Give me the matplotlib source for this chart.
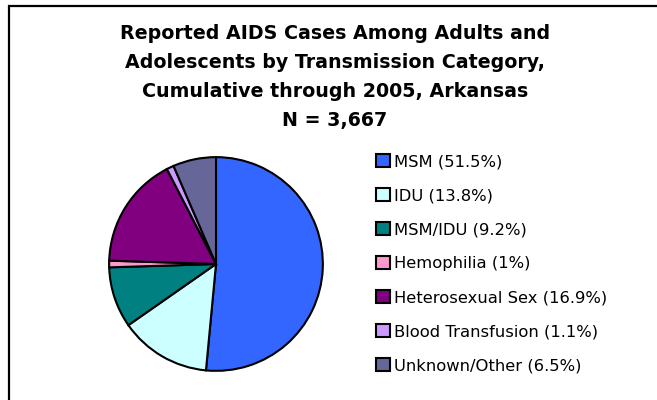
import matplotlib
matplotlib.use("Agg")
import matplotlib.pyplot as plt
from matplotlib.patches import Rectangle

plt.rcParams["font.family"] = "DejaVu Sans"

# data
categories = ["MSM", "IDU", "MSM/IDU", "Hemophilia", "Heterosexual Sex",
              "Blood Transfusion", "Unknown/Other"]
percents = [51.5, 13.8, 9.2, 1, 16.9, 1.1, 6.5]
pct_labels = ["51.5%", "13.8%", "9.2%", "1%", "16.9%", "1.1%", "6.5%"]
colors = ["#3366FF", "#CCFFFF", "#008080", "#FF99CC", "#800080",
          "#CC99FF", "#666699"]

title = ("Reported AIDS Cases Among Adults and\n"
         "Adolescents by Transmission Category,\n"
         "Cumulative through 2005, Arkansas\n"
         "N = 3,667")

W, H = 657, 400
fig = plt.figure(figsize=(W / 100, H / 100), dpi=100)
fig.patch.set_facecolor("white")

# outer border (cropped on the right and bottom)
fig.add_artist(Rectangle((9 / W, -0.1), 1.1, 1 - 6 / H + 0.1,
                         transform=fig.transFigure, fill=False,
                         edgecolor="black", linewidth=1.6))

fig.text(335 / W, 1 - 24 / H, title, ha="center", va="top",
         fontsize=13.7, fontweight="bold", linespacing=1.67)

# pie
cx, cy, r = 216, 264, 109
ax = fig.add_axes([(cx - r) / W, (H - cy - r) / H, 2 * r / W, 2 * r / H])
wedges, _ = ax.pie(percents, colors=colors, startangle=90, counterclock=False,
                   radius=1,
                   wedgeprops=dict(edgecolor="black", linewidth=1.5))
ax.set_xlim(-1.02, 1.02)
ax.set_ylim(-1.02, 1.02)
ax.set_aspect("equal")
ax.axis("off")

labels = [f"{c} ({p})" for c, p in zip(categories, pct_labels)]
leg = fig.legend(wedges, labels, loc="upper left",
                 bbox_to_anchor=(376 / W, 1 - 154 / H),
                 frameon=False, fontsize=11.8, handlelength=0.85,
                 handleheight=0.85, handletextpad=0.25, labelspacing=1.15,
                 borderaxespad=0, borderpad=0)
for h in leg.legend_handles:
    h.set_linewidth(1.5)
    h.set_edgecolor("black")

fig.savefig("out.png", dpi=100)
